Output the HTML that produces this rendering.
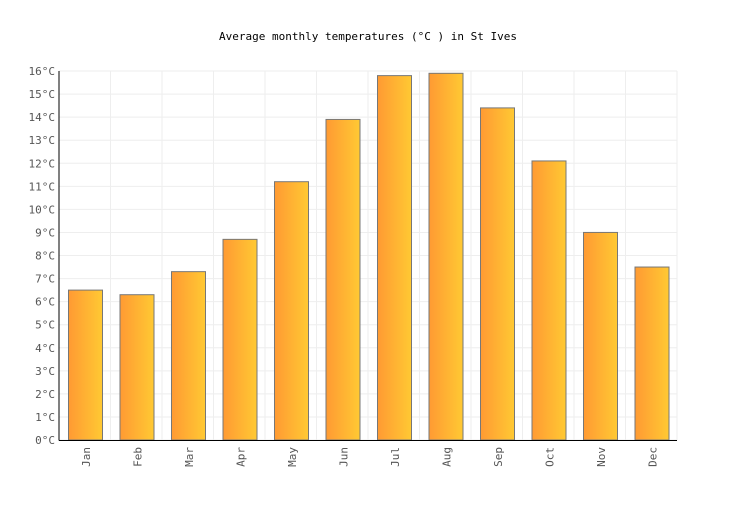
<!DOCTYPE html>
<html><head><meta charset="utf-8"><style>
body{margin:0;background:#fff}
svg text{font-family:"DejaVu Sans Mono","Liberation Mono",monospace;font-size:11px;fill:#555}
</style></head><body>
<svg id="c" width="736" height="500">
<defs><linearGradient id="g" x1="0" x2="1" y1="0" y2="0"><stop offset="0" stop-color="#ff9a33"/><stop offset="1" stop-color="#ffc933"/></linearGradient></defs>
<text x="368" y="40" text-anchor="middle" style="fill:#000">Average monthly temperatures (°C ) in St Ives</text>
</svg>
<script>
const categories=["Jan","Feb","Mar","Apr","May","Jun","Jul","Aug","Sep","Oct","Nov","Dec"];
const temps=[6.5,6.3,7.3,8.7,11.2,13.9,15.8,15.9,14.4,12.1,9.0,7.5];
const yTicks=[0,1,2,3,4,5,6,7,8,9,10,11,12,13,14,15,16];
const NS="http://www.w3.org/2000/svg",svg=document.getElementById('c');
const L=59,R=677,T=71,B=440,band=(R-L)/categories.length;
const y=v=>B-(v/16)*(B-T);
function mk(t,a){const e=document.createElementNS(NS,t);for(const k in a)e.setAttribute(k,a[k]);svg.appendChild(e);return e;}
yTicks.forEach(v=>{
 const g=mk('line',{x1:L,x2:R,y1:y(v),y2:y(v),stroke:'#eee'});
 
 
 const t=mk('text',{x:L-4,y:y(v)+4,'text-anchor':'end'});t.textContent=v+'°C';
 
 
});
categories.forEach((c,i)=>{
 const gx=L+band*(i+1);
 const g=mk('line',{x1:gx,x2:gx,y1:T,y2:B,stroke:'#eee'});
 
 
});
categories.forEach((c,i)=>{
 const x0=L+band*i+9,w=34;
 const r=mk('rect',{x:x0+0.5,y:y(temps[i]),width:w,height:B-y(temps[i]),fill:'url(#g)',stroke:'#777','stroke-width':1});
 
 
 const cx=L+band*(i+0.5)+1;
 const t=mk('text',{x:cx,y:447,transform:`rotate(-90 ${cx+4} 447)`,'text-anchor':'end'});
 t.setAttribute('x',cx+4);t.textContent=c;
 
 
});
const ax=mk('line',{x1:L,x2:L,y1:T,y2:B+0.5,stroke:'#000'});


const bx=mk('line',{x1:L,x2:R,y1:B+0.5,y2:B+0.5,stroke:'#000'});


</script>
</body></html>
